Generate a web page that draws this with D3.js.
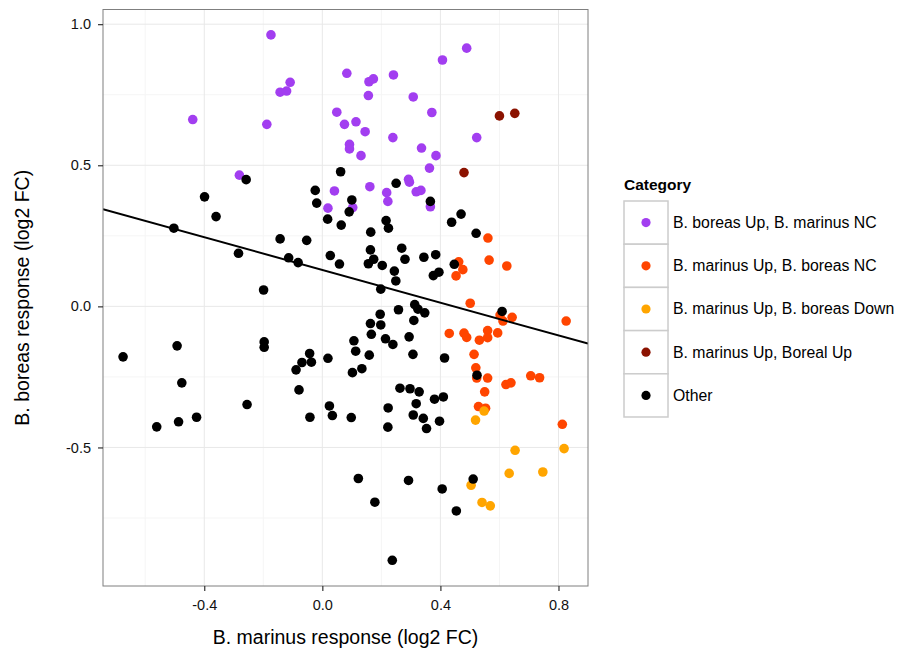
<!DOCTYPE html>
<html>
<head>
<meta charset="utf-8">
<script src="https://cdn.jsdelivr.net/npm/d3@7"></script>
<style>
  body { margin: 0; background: #fff; }
  text { font-family: "Liberation Sans", Arial, sans-serif; }
</style>
</head>
<body>
<div id="chart"></div>
<script>
// categories, in legend order
var categories = ["B. boreas Up, B. marinus NC", "B. marinus Up, B. boreas NC",
  "B. marinus Up, B. boreas Down", "B. marinus Up, Boreal Up", "Other"];
var catColors = ["#a23ef0", "#ff4500", "#ffa500", "#8b1200", "#000000"];

// [marinus, boreas] per category
var borealUp = [[-0.174,0.962],[0.083,0.826],[-0.109,0.794],[-0.143,0.759],[-0.121,0.763],
  [-0.439,0.662],[-0.188,0.645],[0.049,0.688],[0.075,0.645],[0.092,0.574],[0.092,0.558],
  [-0.281,0.465],[0.041,0.409],[0.019,0.348],[0.489,0.915],[0.407,0.873],[0.158,0.796],
  [0.173,0.806],[0.241,0.820],[0.156,0.747],[0.308,0.742],[0.371,0.687],[0.114,0.654],
  [0.145,0.619],[0.239,0.598],[0.523,0.598],[0.131,0.534],[0.336,0.561],[0.385,0.534],
  [0.363,0.490],[0.161,0.424],[0.292,0.450],[0.295,0.440],[0.318,0.406],[0.334,0.411],
  [0.218,0.403],[0.222,0.372],[0.366,0.353],[0.103,0.350]];
var marinusUp = [[0.561,0.242],[0.565,0.164],[0.462,0.158],[0.476,0.130],[0.453,0.108],
  [0.625,0.143],[0.501,0.011],[0.602,-0.031],[0.612,-0.052],[0.643,-0.039],[0.826,-0.052],
  [0.430,-0.096],[0.480,-0.095],[0.489,-0.110],[0.532,-0.120],[0.560,-0.086],[0.560,-0.111],
  [0.594,-0.094],[0.514,-0.170],[0.520,-0.218],[0.523,-0.254],[0.560,-0.254],[0.622,-0.277],
  [0.639,-0.271],[0.706,-0.246],[0.736,-0.253],[0.550,-0.303],[0.529,-0.355],[0.553,-0.361],
  [0.813,-0.418]];
var marinusUpBorealDown = [[0.548,-0.371],[0.519,-0.403],[0.653,-0.510],[0.819,-0.504],
  [0.633,-0.592],[0.747,-0.587],[0.504,-0.634],[0.541,-0.695],[0.569,-0.707]];
var bothUp = [[0.600,0.675],[0.652,0.684],[0.480,0.474]];
var other = [[-0.258,0.449],[0.062,0.477],[-0.024,0.411],[-0.399,0.388],[-0.019,0.366],
  [0.100,0.377],[0.366,0.372],[0.250,0.436],[0.091,0.335],[0.018,0.309],[0.064,0.288],
  [-0.360,0.318],[-0.503,0.277],[-0.143,0.239],[-0.053,0.234],[-0.284,0.188],[-0.114,0.172],
  [-0.082,0.155],[0.027,0.180],[0.058,0.150],[-0.199,0.058],[0.470,0.327],[0.438,0.298],
  [0.216,0.304],[0.224,0.277],[0.164,0.263],[0.521,0.259],[0.163,0.200],[0.156,0.151],
  [0.174,0.167],[0.203,0.145],[0.269,0.206],[0.280,0.167],[0.344,0.174],[0.384,0.183],
  [0.447,0.149],[0.244,0.125],[0.249,0.090],[0.376,0.109],[0.395,0.121],[0.198,0.061],
  [0.196,-0.028],[0.258,-0.012],[0.163,-0.061],[0.198,-0.066],[0.166,-0.099],[0.107,-0.122],
  [0.113,-0.159],[0.214,-0.115],[0.239,-0.135],[0.159,-0.173],[0.102,-0.235],[0.134,-0.221],
  [0.313,0.006],[0.324,-0.010],[0.347,-0.023],[0.310,-0.050],[0.294,-0.108],[0.307,-0.170],
  [0.414,-0.183],[0.609,-0.018],[0.524,-0.244],[0.263,-0.290],[0.297,-0.292],[0.328,-0.303],
  [0.380,-0.329],[0.410,-0.321],[0.318,-0.345],[0.223,-0.360],[0.308,-0.385],[0.342,-0.397],
  [0.353,-0.433],[0.397,-0.407],[0.222,-0.428],[0.098,-0.394],[-0.197,-0.126],[-0.197,-0.145],
  [-0.492,-0.140],[-0.675,-0.179],[-0.476,-0.271],[-0.043,-0.167],[-0.069,-0.199],
  [-0.037,-0.198],[-0.089,-0.225],[0.019,-0.184],[-0.079,-0.296],[-0.255,-0.348],
  [0.024,-0.353],[0.034,-0.387],[-0.042,-0.393],[-0.561,-0.427],[-0.487,-0.409],
  [-0.426,-0.393],[0.511,-0.612],[0.122,-0.610],[0.292,-0.617],[0.406,-0.647],
  [0.178,-0.694],[0.454,-0.725],[0.237,-0.900]];
var seriesByCat = [borealUp, marinusUp, marinusUpBorealDown, bothUp, other];

// fitted line
var fitIntercept = 0.129;
var fitSlope = -0.290;

var xTicks = [-0.4, 0.0, 0.4, 0.8];
var xMinor = [-0.6, -0.2, 0.2, 0.6];
var yTicks = [-0.5, 0.0, 0.5, 1.0];
var yMinor = [-0.75, -0.25, 0.25, 0.75];

var width = 901, height = 653;
var panel = {left: 103, top: 9.5, right: 588, bottom: 586};

var svg = d3.select("#chart").append("svg")
    .attr("width", width)
    .attr("height", height);

var x = d3.scaleLinear().domain([-0.743, 0.900]).range([panel.left, panel.right]);
var y = d3.scaleLinear().domain([-0.991, 1.052]).range([panel.bottom, panel.top]);

// grid
var grid = svg.append("g");
grid.selectAll(".xminor").data(xMinor).enter().append("line")
    .attr("x1", d => x(d)).attr("x2", d => x(d))
    .attr("y1", panel.top).attr("y2", panel.bottom)
    .attr("stroke", "#f5f5f5").attr("stroke-width", 1);
grid.selectAll(".yminor").data(yMinor).enter().append("line")
    .attr("y1", d => y(d)).attr("y2", d => y(d))
    .attr("x1", panel.left).attr("x2", panel.right)
    .attr("stroke", "#f5f5f5").attr("stroke-width", 1);
grid.selectAll(".xmajor").data(xTicks).enter().append("line")
    .attr("x1", d => x(d)).attr("x2", d => x(d))
    .attr("y1", panel.top).attr("y2", panel.bottom)
    .attr("stroke", "#e8e8e8").attr("stroke-width", 1);
grid.selectAll(".ymajor").data(yTicks).enter().append("line")
    .attr("y1", d => y(d)).attr("y2", d => y(d))
    .attr("x1", panel.left).attr("x2", panel.right)
    .attr("stroke", "#e8e8e8").attr("stroke-width", 1);

svg.append("clipPath").attr("id", "clip").append("rect")
    .attr("x", panel.left).attr("y", panel.top)
    .attr("width", panel.right - panel.left).attr("height", panel.bottom - panel.top);

var plot = svg.append("g").attr("clip-path", "url(#clip)");

// points; "Other" last so it sits on top
seriesByCat.forEach(function(pts, i) {
  plot.append("g").selectAll("circle").data(pts).enter().append("circle")
      .attr("cx", d => x(d[0]))
      .attr("cy", d => y(d[1]))
      .attr("r", 4.8)
      .attr("fill", catColors[i]);
});

// fitted line
var xd = x.domain();
plot.append("line")
    .attr("x1", x(xd[0])).attr("y1", y(fitIntercept + fitSlope * xd[0]))
    .attr("x2", x(xd[1])).attr("y2", y(fitIntercept + fitSlope * xd[1]))
    .attr("stroke", "#000").attr("stroke-width", 2);

// panel border
svg.append("rect")
    .attr("x", panel.left).attr("y", panel.top)
    .attr("width", panel.right - panel.left).attr("height", panel.bottom - panel.top)
    .attr("fill", "none").attr("stroke", "#7f7f7f").attr("stroke-width", 1);

// axes
var fmt = function(d) { return d.toFixed(1); };
var xAxis = d3.axisBottom(x).tickValues(xTicks).tickFormat(fmt).tickSize(5).tickPadding(9);
var yAxis = d3.axisLeft(y).tickValues(yTicks).tickFormat(fmt).tickSize(5).tickPadding(7);

var gx = svg.append("g").attr("transform", "translate(0," + panel.bottom + ")").call(xAxis);
var gy = svg.append("g").attr("transform", "translate(" + panel.left + ",0)").call(yAxis);
[gx, gy].forEach(function(g) {
  g.select(".domain").remove();
  g.selectAll(".tick line").attr("stroke", "#333").attr("stroke-width", 1.2);
  g.selectAll(".tick text").attr("fill", "#111").style("font-size", "14.5px")
      .style("font-family", "'Liberation Sans', Arial, sans-serif");
});

svg.append("text")
    .attr("x", (panel.left + panel.right) / 2).attr("y", 644)
    .attr("text-anchor", "middle").style("font-size", "19.5px")
    .text("B. marinus response (log2 FC)");
svg.append("text")
    .attr("transform", "translate(29," + ((panel.top + panel.bottom) / 2) + ") rotate(-90)")
    .attr("text-anchor", "middle").style("font-size", "19.5px")
    .text("B. boreas response (log2 FC)");

// legend
var legend = svg.append("g").attr("transform", "translate(624,0)");
legend.append("text").attr("x", 0).attr("y", 190)
    .style("font-size", "15.5px").style("font-weight", "bold").text("Category");
var keyH = 43.2, keyTop = 201;
var keys = legend.selectAll(".key").data(categories).enter().append("g")
    .attr("transform", (d, i) => "translate(0," + (keyTop + i * keyH) + ")");
keys.append("rect").attr("x", 0).attr("y", 0).attr("width", 44).attr("height", keyH)
    .attr("fill", "#fff").attr("stroke", "#cccccc").attr("stroke-width", 1.5);
keys.append("circle").attr("cx", 22).attr("cy", keyH / 2).attr("r", 4.6)
    .attr("fill", (d, i) => catColors[i]);
keys.append("text").attr("x", 49).attr("y", keyH / 2 + 5.5)
    .style("font-size", "15.8px").text(d => d);
</script>
</body>
</html>
